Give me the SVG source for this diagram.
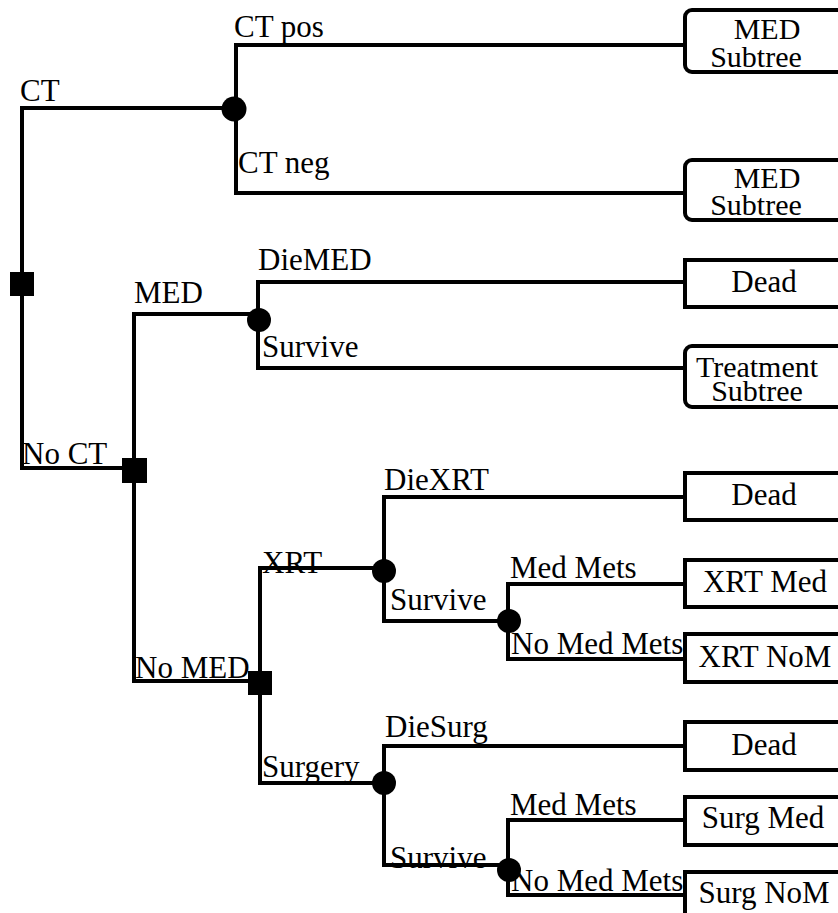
<svg xmlns="http://www.w3.org/2000/svg" width="838" height="913" viewBox="0 0 838 913">
  <style>
    text { font-family: "Liberation Serif", "Times New Roman", serif; font-size: 31px; fill: #000; }
    .mid { text-anchor: middle; }
    .two { font-size: 30px; }
    .ln { stroke: #000; stroke-width: 4; fill: none; stroke-linecap: square; }
    .box { stroke: #000; stroke-width: 4; fill: #fff; }
    .chance { fill: #000; }
    .decision { fill: #000; }
  </style>

  <!-- branch labels (drawn below the lines) -->
  <g id="labels">
    <text x="20" y="101">CT</text>
    <text x="234" y="37">CT pos</text>
    <text x="238" y="173">CT neg</text>
    <text x="134" y="303">MED</text>
    <text x="258" y="270">DieMED</text>
    <text x="262" y="357">Survive</text>
    <text x="22" y="464">No CT</text>
    <text x="384" y="490">DieXRT</text>
    <text x="262" y="573">XRT</text>
    <text x="390" y="610">Survive</text>
    <text x="510" y="578">Med Mets</text>
    <text x="511" y="654">No Med Mets</text>
    <text x="135" y="678">No MED</text>
    <text x="385" y="737">DieSurg</text>
    <text x="262" y="777">Surgery</text>
    <text x="390" y="868">Survive</text>
    <text x="510" y="815">Med Mets</text>
    <text x="511" y="891">No Med Mets</text>
  </g>

  <!-- connectors -->
  <g id="connectors" class="ln">
    <path d="M22 108 H234 M22 108 V468 H134"/>
    <path d="M236 45 V193 M236 45 H685 M236 193 H685"/>
    <path d="M134 314 H259 M134 314 V681 H260"/>
    <path d="M258 282 V368 M258 282 H685 M258 368 H685"/>
    <path d="M260 568 H384 M260 568 V783 H384"/>
    <path d="M384 497 V621 H509 M384 497 H685"/>
    <path d="M508 584 V659 M508 584 H685 M508 659 H685"/>
    <path d="M384 746 V865 H509 M384 746 H685"/>
    <path d="M508 820 V895 M508 820 H685 M508 895 H685"/>
  </g>

  <!-- decision nodes -->
  <g id="decision-ct"><rect class="decision" x="10" y="272" width="24" height="24"/></g>
  <g id="decision-med"><rect class="decision" x="122" y="458" width="25" height="25"/></g>
  <g id="decision-treat"><rect class="decision" x="248" y="671" width="24" height="24"/></g>

  <!-- chance nodes -->
  <g id="chance-ct"><circle class="chance" cx="234" cy="109" r="12.5"/></g>
  <g id="chance-med"><circle class="chance" cx="259" cy="320" r="12"/></g>
  <g id="chance-xrt"><circle class="chance" cx="384" cy="571" r="12"/></g>
  <g id="chance-xrt-mets"><circle class="chance" cx="509" cy="621" r="12"/></g>
  <g id="chance-surg"><circle class="chance" cx="384" cy="783" r="12"/></g>
  <g id="chance-surg-mets"><circle class="chance" cx="509" cy="870" r="12"/></g>

  <!-- terminal and subtree nodes -->
  <g id="med-subtree-pos">
    <rect class="box" x="685" y="10" width="180" height="62" rx="7"/>
    <text class="mid two" x="767" y="39">MED</text>
    <text class="mid two" x="756" y="67">Subtree</text>
  </g>
  <g id="med-subtree-neg">
    <rect class="box" x="685" y="160" width="180" height="60" rx="7"/>
    <text class="mid two" x="767" y="188">MED</text>
    <text class="mid two" x="756" y="215">Subtree</text>
  </g>
  <g id="dead-med">
    <rect class="box" x="685" y="260" width="180" height="47"/>
    <text class="mid" x="764" y="292">Dead</text>
  </g>
  <g id="treatment-subtree">
    <rect class="box" x="685" y="346" width="180" height="61" rx="7"/>
    <text class="mid two" x="757" y="377">Treatment</text>
    <text class="mid two" x="757" y="401">Subtree</text>
  </g>
  <g id="dead-xrt">
    <rect class="box" x="685" y="473" width="180" height="47"/>
    <text class="mid" x="764" y="505">Dead</text>
  </g>
  <g id="xrt-med">
    <rect class="box" x="685" y="560" width="180" height="47"/>
    <text class="mid" x="765" y="592">XRT Med</text>
  </g>
  <g id="xrt-nom">
    <rect class="box" x="685" y="634" width="180" height="48"/>
    <text class="mid" x="765" y="667">XRT NoM</text>
  </g>
  <g id="dead-surg">
    <rect class="box" x="685" y="722" width="180" height="48"/>
    <text class="mid" x="764" y="755">Dead</text>
  </g>
  <g id="surg-med">
    <rect class="box" x="685" y="797" width="180" height="48"/>
    <text class="mid" x="763" y="828">Surg Med</text>
  </g>
  <g id="surg-nom">
    <rect class="box" x="685" y="872" width="180" height="48"/>
    <text class="mid" x="764" y="903">Surg NoM</text>
  </g>
</svg>
